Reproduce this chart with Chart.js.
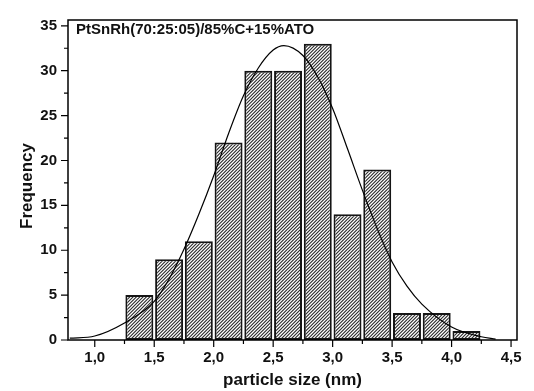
<!DOCTYPE html>
<html lang="en">
<head>
  <meta charset="UTF-8" />
  <title>Particle size histogram</title>
  <script src="https://cdn.jsdelivr.net/npm/chart.js"></script>
  <style>
    html, body { margin: 0; padding: 0; background: #fff; }
    #wrap { position: relative; width: 534px; height: 391px; }
  </style>
</head>
<body>
  <div id="wrap"><canvas id="chartCanvas"></canvas></div>

  <script>
    // histogram bins (bin centres, nm) and counts
    const binCenters = [1.375, 1.625, 1.875, 2.125, 2.375, 2.625, 2.875, 3.125, 3.375, 3.625, 3.875, 4.125];
    const counts = [5, 9, 11, 22, 30, 30, 33, 14, 19, 3, 3, 1];

    // fitted curve
    const fitX = [0.79, 1.0, 1.25, 1.5, 1.625, 1.75, 1.875, 2.0, 2.125, 2.25, 2.375, 2.5, 2.59, 2.75, 2.875, 3.0, 3.125, 3.25, 3.375, 3.5, 3.625, 3.75, 4.0, 4.25, 4.37];
    const fitY = [0.2, 0.45, 1.9, 4.3, 6.8, 10.1, 14.0, 18.3, 23.0, 27.2, 30.3, 32.3, 32.8, 31.7, 29.3, 25.8, 21.3, 16.7, 12.4, 8.7, 6.0, 4.0, 1.45, 0.36, 0.1];

    const xTicks = [1.0, 1.5, 2.0, 2.5, 3.0, 3.5, 4.0, 4.5];
    const xMinor = [1.25, 1.75, 2.25, 2.75, 3.25, 3.75, 4.25];
    const yTicks = [0, 5, 10, 15, 20, 25, 30, 35];
    const yMinor = [2.5, 7.5, 12.5, 17.5, 22.5, 27.5, 32.5];

    const label = 'PtSnRh(70:25:05)/85%C+15%ATO';
    const yTitle = 'Frequency';
    const fontFam = '"Liberation Sans", Arial, sans-serif';

    function hatch() {
      const s = 10; // 3 diagonals per tile
      const c = document.createElement('canvas');
      c.width = s; c.height = s;
      const g = c.getContext('2d');
      g.fillStyle = '#fff';
      g.fillRect(0, 0, s, s);
      g.strokeStyle = '#2a2a2a';
      g.lineWidth = 1.1;
      g.beginPath();
      for (let k = -4; k <= 4; k++) {
        const o = k * s / 3;
        g.moveTo(o - 1, s + 1); g.lineTo(o + s + 1, -1);
      }
      g.stroke();
      return g.createPattern(c, 'repeat');
    }

    // box, ticks, inner label and y title
    const frame = {
      id: 'frame',
      afterDraw(chart) {
        const { ctx, chartArea: a, scales: { x, y } } = chart;
        ctx.save();
        ctx.strokeStyle = '#000';
        ctx.lineWidth = 1.5;
        ctx.strokeRect(a.left, a.top, a.right - a.left, a.bottom - a.top);
        ctx.lineWidth = 1.2;
        ctx.beginPath();
        xTicks.forEach(v => { const p = x.getPixelForValue(v); ctx.moveTo(p, a.bottom); ctx.lineTo(p, a.bottom + 7); });
        xMinor.forEach(v => { const p = x.getPixelForValue(v); ctx.moveTo(p, a.bottom); ctx.lineTo(p, a.bottom + 4); });
        yTicks.forEach(v => { const p = y.getPixelForValue(v); ctx.moveTo(a.left, p); ctx.lineTo(a.left - 7, p); });
        yMinor.forEach(v => { const p = y.getPixelForValue(v); ctx.moveTo(a.left, p); ctx.lineTo(a.left - 4, p); });
        ctx.stroke();
        ctx.fillStyle = '#111';
        ctx.font = 'bold 15px ' + fontFam;
        ctx.textBaseline = 'middle';
        ctx.fillText(label, a.left + 8, a.top + 10);
        ctx.font = 'bold 17px ' + fontFam;
        ctx.textAlign = 'center';
        ctx.translate(27, 186);
        ctx.rotate(-Math.PI / 2);
        ctx.fillText(yTitle, 0, 0);
        ctx.restore();
      }
    };

    const ctx = document.getElementById('chartCanvas').getContext('2d');

    new Chart(ctx, {
      type: 'bar',
      data: {
        datasets: [{
          type: 'line',
          data: fitX.map((v, i) => ({ x: v, y: fitY[i] })),
          borderColor: '#000',
          borderWidth: 1.2,
          pointRadius: 0,
          cubicInterpolationMode: 'monotone',
          fill: false,
          order: 0
        }, {
          type: 'bar',
          data: binCenters.map((v, i) => ({ x: v, y: counts[i] })),
          backgroundColor: hatch(),
          borderColor: '#151515',
          borderWidth: 2,
          borderSkipped: false,
          barPercentage: 0.94,
          categoryPercentage: 1.0,
          order: 1
        }]
      },
      options: {
        responsive: true,
        maintainAspectRatio: false,
        animation: false,
        layout: { padding: { left: 0, right: 17, top: 12, bottom: 0 } },
        plugins: { legend: { display: false }, tooltip: { enabled: false } },
        scales: {
          x: {
            type: 'linear',
            offset: false,
            min: 0.775,
            max: 4.55,
            grid: { display: false, drawTicks: false },
            border: { display: false },
            afterBuildTicks: s => { s.ticks = xTicks.map(v => ({ value: v })); },
            afterFit: s => { s.height = 51; },
            ticks: {
              padding: 9,
              color: '#111',
              font: { family: fontFam, size: 15, weight: 'bold' },
              callback: v => v.toFixed(1).replace('.', ',')
            },
            title: {
              display: true,
              text: 'particle size (nm)',
              color: '#111',
              font: { family: fontFam, size: 17, weight: 'bold' },
              padding: { top: 3, bottom: 0 }
            }
          },
          y: {
            min: 0,
            max: 35.65,
            grid: { display: false, drawTicks: false },
            border: { display: false },
            afterBuildTicks: s => { s.ticks = yTicks.map(v => ({ value: v })); },
            afterFit: s => { s.width = 68; },
            ticks: {
              padding: 11,
              color: '#111',
              font: { family: fontFam, size: 15, weight: 'bold' }
            }
          }
        }
      },
      plugins: [frame]
    });
  </script>
</body>
</html>
